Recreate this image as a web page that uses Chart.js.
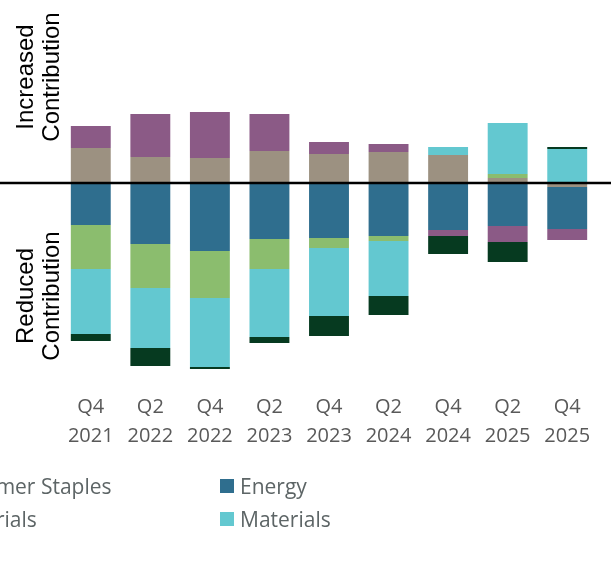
<!DOCTYPE html>
<html>
<head>
<meta charset="utf-8">
<script src="https://cdn.jsdelivr.net/npm/chart.js@4.4.1/dist/chart.umd.min.js"></script>
<style>
  html, body { margin: 0; padding: 0; background: #fff; overflow: hidden; }
  #wrap { position: relative; width: 611px; height: 566px; }
  #chart { position: absolute; left: 0; top: 0; }
  #legend { position: absolute; left: 0; top: 0; width: 611px; height: 566px; pointer-events: none; }
  .item { position: absolute; display: flex; align-items: center; white-space: nowrap;
          font-family: "Open Sans", "Noto Sans", sans-serif; font-size: 21px; color: #5d6566; }
  .item span.box { display: inline-block; width: 14px; height: 14px; margin-right: 6px; }
</style>
</head>
<body>
<div id="wrap">
  <canvas id="chart" width="611" height="566"></canvas>
  <div id="legend"></div>
</div>
<script>
// Quarterly change in sector contribution (percentage points)
var quarters = [['Q4', '2021'], ['Q2', '2022'], ['Q4', '2022'], ['Q2', '2023'], ['Q4', '2023'],
                ['Q2', '2024'], ['Q4', '2024'], ['Q2', '2025'], ['Q4', '2025']];

var consumerStaples = [0.35, 0.26, 0.25, 0.32, 0.29, 0.31, 0.28, 0.05, -0.04];
var energy          = [-0.42, -0.61, -0.68, -0.56, -0.55, -0.53, -0.47, -0.43, -0.42];
var consumerDisc    = [0.22, 0.43, 0.46, 0.37, 0.12, 0.08, -0.06, -0.16, -0.11];
var financials      = [-0.44, -0.44, -0.47, -0.30, -0.10, -0.05, null, 0.04, null];
var materials       = [-0.65, -0.60, -0.69, -0.68, -0.68, -0.55, 0.08, 0.51, 0.34];
var industrials     = [-0.07, -0.18, -0.02, -0.06, -0.20, -0.19, -0.18, -0.20, 0.02];

// legend order (3 columns x 2 rows)
var legendOrder = ['Consumer Discretionary', 'Consumer Staples', 'Energy',
                   'Financials', 'Industrials', 'Materials'];

var colors = {
    'Consumer Staples': '#9c9181',
    'Energy': '#2f6e8e',
    'Consumer Discretionary': '#8b5a86',
    'Financials': '#8bbd6e',
    'Materials': '#63c8d0',
    'Industrials': '#063a20'
};

function series(name, values) {
    return {
        label: name,
        data: values,
        backgroundColor: colors[name],
        borderWidth: 0,
        stack: 'all'
    };
}

// zero line across the whole width plus the two side captions
var sidePlugin = {
    id: 'sideText',
    afterDatasetsDraw: function (chart) {
        var ctx = chart.ctx;
        var y0 = chart.scales.y.getPixelForValue(0);
        ctx.save();
        ctx.strokeStyle = '#000';
        ctx.lineWidth = 2.5;
        ctx.beginPath();
        ctx.moveTo(0, y0);
        ctx.lineTo(chart.width, y0);
        ctx.stroke();

        ctx.fillStyle = '#000';
        ctx.font = '24px "Liberation Sans", Arial, sans-serif';
        ctx.textAlign = 'center';
        ctx.textBaseline = 'alphabetic';
        function caption(lines, cy) {
            lines.forEach(function (t, i) {
                ctx.save();
                ctx.translate(33 + i * 26, cy);
                ctx.rotate(-Math.PI / 2);
                ctx.fillText(t, 0, 0);
                ctx.restore();
            });
        }
        caption(['Increased', 'Contribution'], 77);
        caption(['Reduced', 'Contribution'], 296);
        ctx.restore();
    }
};

var ctx = document.getElementById('chart').getContext('2d');
var chart = new Chart(ctx, {
    type: 'bar',
    data: {
        labels: quarters,
        datasets: [
            series('Consumer Staples', consumerStaples),
            series('Energy', energy),
            series('Consumer Discretionary', consumerDisc),
            series('Financials', financials),
            series('Materials', materials),
            series('Industrials', industrials)
        ]
    },
    options: {
        responsive: false,
        devicePixelRatio: 1,
        animation: false,
        layout: { padding: { left: 61, right: 14, top: 83, bottom: 0 } },
        datasets: { bar: { categoryPercentage: 1, barPercentage: 0.67 } },
        plugins: { legend: { display: false }, tooltip: { enabled: false } },
        scales: {
            x: {
                stacked: true,
                grid: { display: false },
                border: { display: false },
                ticks: {
                    color: '#595959',
                    padding: 2,
                    maxRotation: 0,
                    font: { family: '"Open Sans", "Noto Sans", sans-serif', size: 20, lineHeight: 1.45 }
                },
                afterFit: function (s) { s.height = 183; }
            },
            y: {
                stacked: true,
                display: false,
                min: -2,
                max: 1
            }
        }
    },
    plugins: [sidePlugin]
});

// legend built from the chart's datasets, laid out in a fixed grid
var legend = document.getElementById('legend');
var colX = [-380, -86, 220];
var rowY = [472, 505];
legendOrder.forEach(function (name, i) {
    var ds = chart.data.datasets.find(function (d) { return d.label === name; });
    var el = document.createElement('div');
    el.className = 'item';
    el.style.left = colX[i % 3] + 'px';
    el.style.top = rowY[Math.floor(i / 3)] + 'px';
    el.innerHTML = '<span class="box" style="background:' + ds.backgroundColor + '"></span>' + name;
    legend.appendChild(el);
});
</script>
</body>
</html>
